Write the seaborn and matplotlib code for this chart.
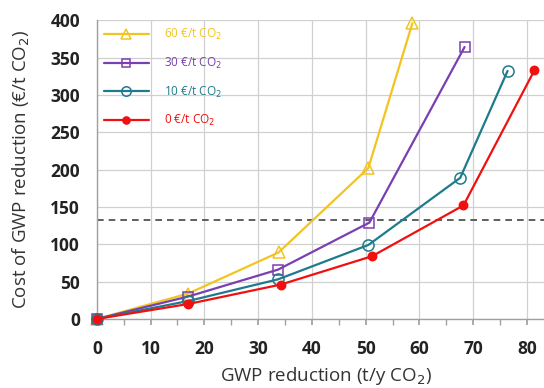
import matplotlib
matplotlib.use("Agg")
import matplotlib.pyplot as plt
from matplotlib.ticker import MultipleLocator
import numpy as np
import pandas as pd
import seaborn as sns

sns.set_theme(style="white")
plt.rcParams['font.family'] = ['Open Sans', 'DejaVu Sans']

# data
x_60 = [0, 17, 33.8, 50.5, 58.7]
y_60 = [0, 34, 89, 202, 396]
x_30 = [0, 17, 33.7, 50.7, 68.4]
y_30 = [0, 30, 66, 129, 364]
x_10 = [0, 17, 33.7, 50.5, 67.6, 76.4]
y_10 = [0, 24, 53, 99, 189, 332]
x_0 = [0, 17, 34.2, 51.2, 68.2, 81.4]
y_0 = [0, 20, 46, 84, 152, 333]
threshold = 132

labels = ['60 €/t CO$_2$', '30 €/t CO$_2$', '10 €/t CO$_2$', '0 €/t CO$_2$']
colors = ['#F2C420', '#7A3FB0', '#1E7B8C', '#F01010']

series = [(x_60, y_60, '^', 'none', 8),
          (x_30, y_30, 's', 'none', 7),
          (x_10, y_10, 'o', 'none', 8),
          (x_0, y_0, 'o', colors[3], 6)]

fig = plt.figure(figsize=(5.44, 3.88), dpi=100)
# the plot area runs a little past the right edge of the picture, as in the original
ax = fig.add_axes([0.178, 0.178, 0.842, 0.77])

for (xs, ys, mk, fc, ms), lab, col in zip(series, labels, colors):
    df = pd.DataFrame({'x': xs, 'y': ys})
    sns.lineplot(data=df, x='x', y='y', ax=ax, color=col, lw=1.6, label=lab,
                 marker=mk, markersize=ms, markerfacecolor=fc,
                 markeredgecolor=col, markeredgewidth=1.1, clip_on=False,
                 zorder=3)

ax.axhline(threshold, color='#444444', ls='--', lw=1.2, dashes=(4, 3), zorder=2)

ax.set_xlim(0, 85.2)
ax.set_ylim(0, 400)
ax.xaxis.set_major_locator(MultipleLocator(10))
ax.xaxis.set_minor_locator(MultipleLocator(5))
ax.yaxis.set_major_locator(MultipleLocator(50))
ax.grid(True, which='major', color='#D0D0D0', lw=0.9)
ax.tick_params(axis='x', which='both', direction='out', bottom=True,
               length=4, color='#A0A0A0', pad=11)
ax.tick_params(axis='y', left=False, pad=6)
for lbl in ax.get_xticklabels() + ax.get_yticklabels():
    lbl.set_fontweight('bold')
    lbl.set_fontsize(12.5)
    lbl.set_color('#222222')

for s in ['top', 'right']:
    ax.spines[s].set_visible(False)
for s in ['left', 'bottom']:
    ax.spines[s].set_color('#A0A0A0')
    ax.spines[s].set_linewidth(1)

ax.set_xlabel('GWP reduction (t/y CO$_2$)', fontsize=13.5, color='#333333')
ax.set_ylabel('Cost of GWP reduction (€/t CO$_2$)', fontsize=13.5, color='#333333')
ax.xaxis.set_label_coords(0.5, -0.155)
ax.yaxis.set_label_coords(-65 / 458, 0.5)

leg = ax.legend(loc='upper left', frameon=False, fontsize=8.5, handlelength=3.8,
                handletextpad=1.3, labelspacing=1.15, borderaxespad=0.2,
                markerscale=0.85, bbox_to_anchor=(0.0, 1.0))
for txt, col in zip(leg.get_texts(), colors):
    txt.set_color(col)

fig.savefig('out.png', dpi=100)
